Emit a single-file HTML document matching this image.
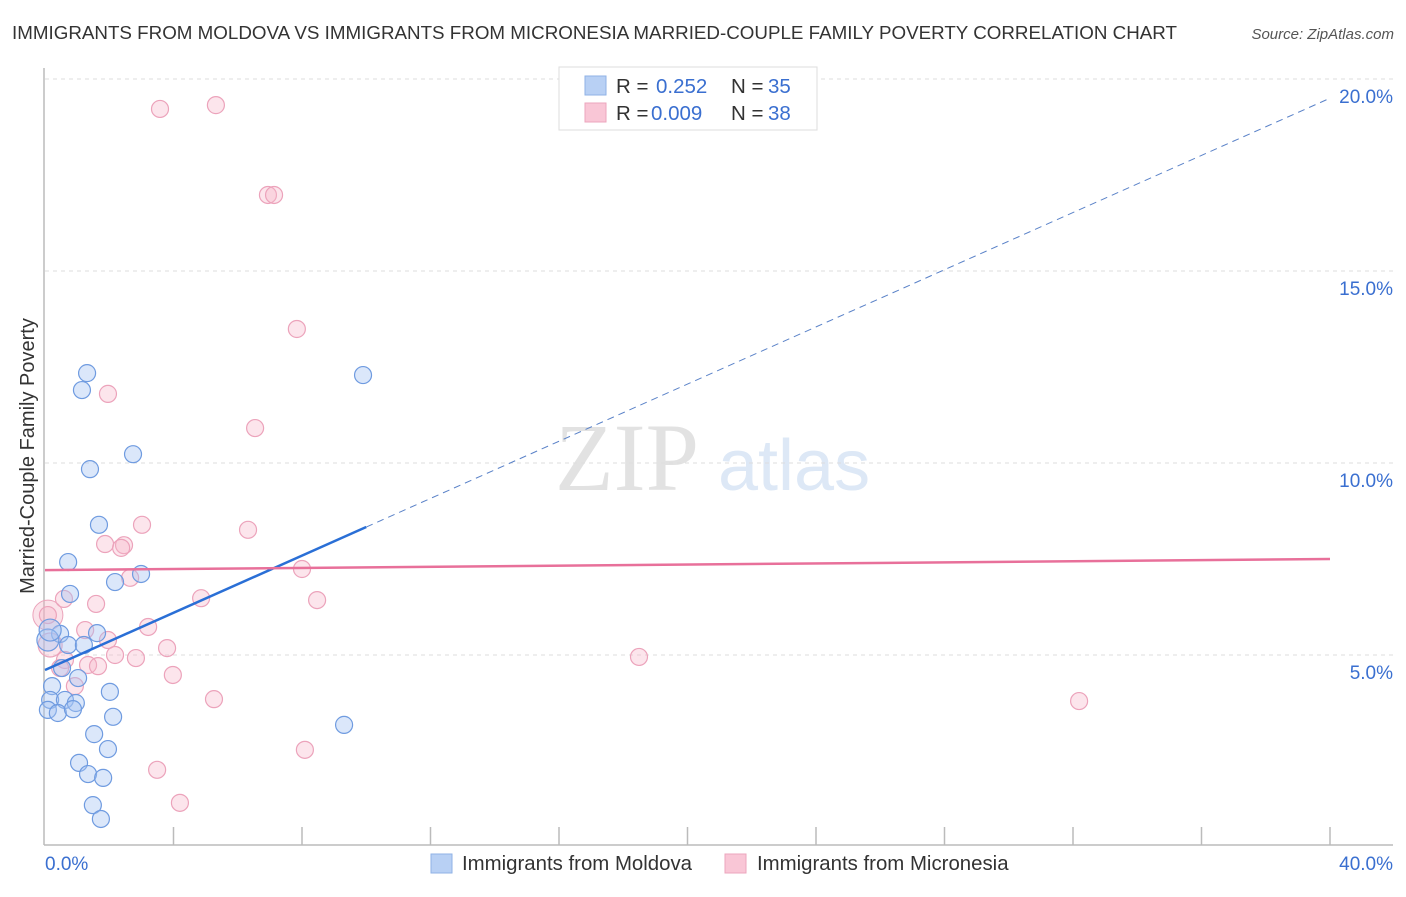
<!DOCTYPE html>
<html><head><meta charset="utf-8"><style>
html,body{margin:0;padding:0;background:#fff;}
body{width:1406px;height:892px;overflow:hidden;font-family:"Liberation Sans",sans-serif;}
</style></head><body>
<svg id="chart" width="1406" height="892" xmlns="http://www.w3.org/2000/svg">
<text x="12" y="39" font-size="18.5" fill="#333" textLength="1165" lengthAdjust="spacingAndGlyphs">IMMIGRANTS FROM MOLDOVA VS IMMIGRANTS FROM MICRONESIA MARRIED-COUPLE FAMILY POVERTY CORRELATION CHART</text>
<text x="1394" y="39" font-size="15" fill="#555" font-style="italic" text-anchor="end">Source: ZipAtlas.com</text>
<g>
<text x="555" y="490" font-size="96" fill="#e2e2e2" font-family="Liberation Serif, serif">ZIP</text>
<text x="718" y="490" font-size="72" fill="#dde8f6">atlas</text>
</g>
<text transform="translate(34,456) rotate(-90)" font-size="20" fill="#333" text-anchor="middle">Married-Couple Family Poverty</text>
<g id="grid"></g>
<g id="axes"></g>
<g id="marks"></g>
<g id="lines"></g>
<g>
<rect x="559" y="67" width="258" height="63" fill="#fff" stroke="#ddd"/>
<rect x="585" y="76" width="21" height="19" fill="#b8d0f4" stroke="#8fb2e6"/>
<rect x="585" y="103" width="21" height="19" fill="#f9c6d6" stroke="#eca6bd"/>
<text x="616" y="93" font-size="20.5" fill="#333">R =</text>
<text x="656" y="93" font-size="20.5" fill="#3a6fd0">0.252</text>
<text x="731" y="93" font-size="20.5" fill="#333">N =</text>
<text x="768" y="93" font-size="20.5" fill="#3a6fd0">35</text>
<text x="616" y="120" font-size="20.5" fill="#333">R =</text>
<text x="651" y="120" font-size="20.5" fill="#3a6fd0">0.009</text>
<text x="731" y="120" font-size="20.5" fill="#333">N =</text>
<text x="768" y="120" font-size="20.5" fill="#3a6fd0">38</text>
</g>
<g>
<rect x="431" y="854" width="21" height="19" fill="#b8d0f4" stroke="#8fb2e6"/>
<text x="462" y="870" font-size="20.4" fill="#333">Immigrants from Moldova</text>
<rect x="725" y="854" width="21" height="19" fill="#f9c6d6" stroke="#eca6bd"/>
<text x="757" y="870" font-size="20.4" fill="#333">Immigrants from Micronesia</text>
</g>
</svg>
<script>
const moldovaX=[1.31,1.15,1.40,2.74,1.68,0.72,2.99,2.18,0.78,1.62,0.47,0.72,1.21,0.53,1.03,0.22,2.02,0.16,0.62,0.96,0.09,0.40,0.87,2.12,1.53,1.96,1.06,1.34,1.81,1.49,1.74,9.31,9.90,0.09,0.16];
const moldovaY=[12.34,11.90,9.84,10.23,8.39,7.42,7.11,6.90,6.59,5.57,5.55,5.26,5.26,4.66,4.40,4.19,4.04,3.83,3.83,3.75,3.57,3.49,3.59,3.39,2.94,2.55,2.19,1.90,1.80,1.09,0.73,3.18,12.29,5.39,5.65];
const micronesiaX=[3.58,5.32,6.94,7.13,7.84,1.96,6.54,3.02,6.32,1.87,2.46,2.37,2.65,8.00,0.59,1.59,4.86,8.47,3.21,1.25,1.96,3.80,0.62,1.34,1.65,2.18,2.83,0.47,0.93,3.98,5.26,8.09,3.49,4.20,18.49,32.19,0.09,0.16];
const micronesiaY=[19.22,19.32,16.98,16.98,13.49,11.80,10.91,8.39,8.26,7.89,7.86,7.79,7.01,7.24,6.46,6.33,6.48,6.43,5.73,5.65,5.39,5.18,4.87,4.74,4.71,5.00,4.92,4.66,4.19,4.48,3.85,2.53,2.01,1.15,4.95,3.80,6.04,5.26];
const trendMoldova=[4.61,19.5];
const trendMicronesia=[7.21,7.50];
const yTicks=[5,10,15,20];
const yTickLabels=["5.0%","10.0%","15.0%","20.0%"];
const xTicks=[0,4,8,12,16,20,24,28,32,36,40];

const NS="http://www.w3.org/2000/svg";
const X=v=>45+v*32.125;
const Y=v=>847-v*38.4;
function mk(parent,tag,attrs){const e=document.createElementNS(NS,tag);for(const k in attrs)e.setAttribute(k,attrs[k]);document.getElementById(parent).appendChild(e);return e;}

yTicks.forEach((t,i)=>{
  const g=mk('grid','line',{x1:45,x2:1393,y1:Y(t),y2:Y(t),stroke:'#ddd','stroke-dasharray':'4,4'});
  
  
  const tx=mk('grid','text',{x:1393,y:Y(t)+24,'font-size':19,fill:'#3a6fd0','text-anchor':'end'});
  tx.textContent=yTickLabels[i];
  
  
});
const ax=mk('axes','line',{x1:44,x2:1393,y1:845,y2:845,stroke:'#bbb','stroke-width':1.5});


const ay=mk('axes','line',{x1:44,x2:44,y1:68,y2:845,stroke:'#bbb','stroke-width':1.5});


xTicks.forEach(t=>{
  if(t===0)return;
  const l=mk('axes','line',{x1:X(t),x2:X(t),y1:827,y2:845,stroke:'#bbb','stroke-width':1.5});
  
  
});
const x0=mk('axes','text',{x:45,y:870,'font-size':19,fill:'#3a6fd0'});x0.textContent="0.0%";


const x1=mk('axes','text',{x:1393,y:870,'font-size':19,fill:'#3a6fd0','text-anchor':'end'});x1.textContent="40.0%";



const bp=mk('marks','circle',{cx:X(micronesiaX[36]),cy:Y(micronesiaY[36]),r:15,fill:'rgba(244,174,196,0.35)',stroke:'#eba3ba'});



micronesiaX.forEach((x,i)=>{
  const c=mk('marks','circle',{cx:X(x),cy:Y(micronesiaY[i]),r:i===37?12:8.5,fill:'rgba(246,180,200,0.35)',stroke:'#eca3bb','stroke-width':1.2});
  
  
});
moldovaX.forEach((x,i)=>{
  const c=mk('marks','circle',{cx:X(x),cy:Y(moldovaY[i]),r:i>=33?11:8.5,fill:'rgba(164,196,242,0.4)',stroke:'#6f9be0','stroke-width':1.2});
  
  
});

const sl=trendMoldova[1]-trendMoldova[0];
const bsolid=mk('lines','line',{x1:X(0),y1:Y(trendMoldova[0]),x2:X(10),y2:Y(trendMoldova[0]+sl*10/40),stroke:'#2a6fd6','stroke-width':2.5});


const bdash=mk('lines','line',{x1:X(10),y1:Y(trendMoldova[0]+sl*10/40),x2:X(40),y2:Y(trendMoldova[1]),stroke:'#5a82c8','stroke-width':1,'stroke-dasharray':'7,5'});


const pl=mk('lines','line',{x1:X(0),y1:Y(trendMicronesia[0]),x2:X(40),y2:Y(trendMicronesia[1]),stroke:'#e8709a','stroke-width':2.5});


</script>
</body></html>
